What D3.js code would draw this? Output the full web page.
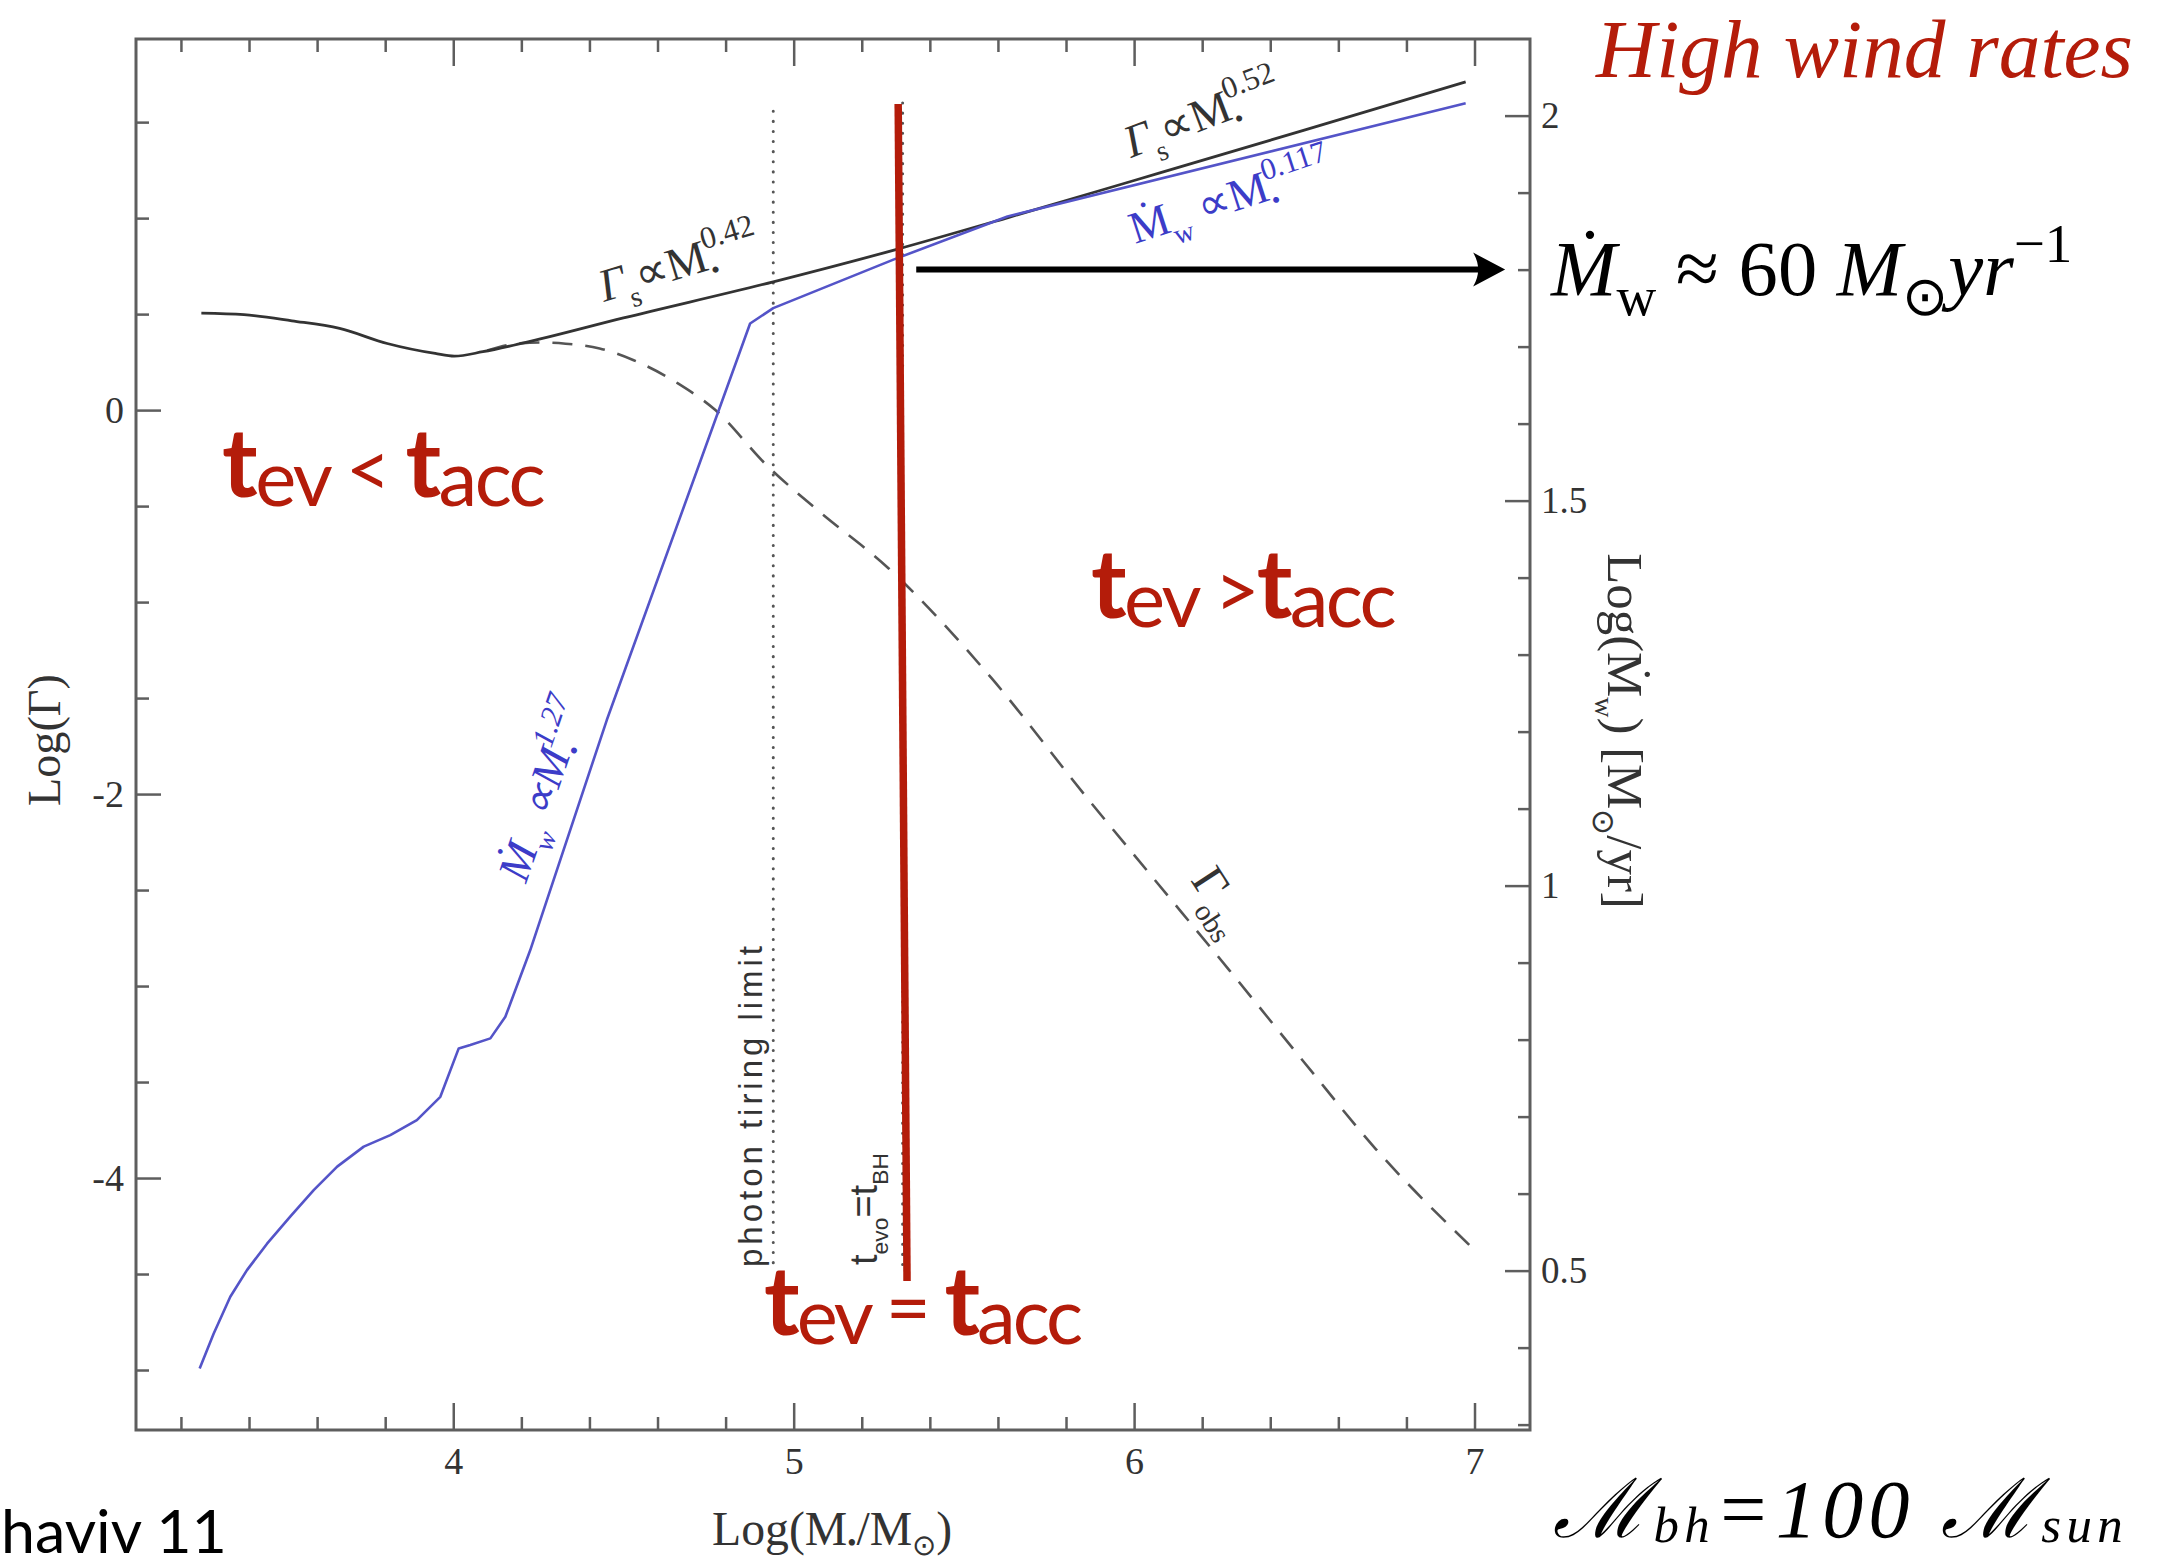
<!DOCTYPE html>
<html>
<head>
<meta charset="utf-8">
<script src="https://cdn.jsdelivr.net/npm/d3@7"></script>
<style>
  html, body { margin: 0; padding: 0; background: #fff; }
  svg { display: block; }
</style>
</head>
<body>
<svg id="chart" width="2171" height="1565"></svg>
<script>
// ---- data -------------------------------------------------------------
// log stellar mass (x) and log Eddington factor of the sonic point, Gamma_s
const massS   = [3.26, 3.385, 3.526, 3.666, 3.806, 3.947, 4.003, 4.087, 4.2, 4.5, 4.94, 5.3, 5.63, 6.0, 6.5, 6.974];
const gammaS  = [0.505, 0.497, 0.465, 0.4255, 0.347, 0.295, 0.281, 0.304, 0.347, 0.48, 0.668, 0.836, 1.003, 1.196, 1.458, 1.710];

// observed Eddington factor, Gamma_obs
const massObs  = [4.1, 4.19, 4.26, 4.33, 4.43, 4.53, 4.66, 4.77, 4.92, 5.07, 5.28, 5.58, 5.86, 6.07, 6.28, 6.50, 6.71, 6.99];
const gammaObs = [0.31, 0.347, 0.352, 0.346, 0.321, 0.26, 0.139, 0.0, -0.286, -0.521, -0.826, -1.394, -2.016, -2.467, -2.918, -3.398, -3.849, -4.358];

// wind mass-loss rate, log(Mdot_w) in Msun/yr (right axis)
const massWind = [3.255, 3.296, 3.345, 3.394, 3.453, 3.521, 3.590, 3.659, 3.737, 3.815, 3.893, 3.962, 4.016, 4.050, 4.109, 4.153, 4.226, 4.451, 4.872, 4.940, 5.293, 5.628, 6.974];
const mdotWind = [0.373, 0.418, 0.466, 0.5006, 0.535, 0.570, 0.6045, 0.635, 0.661, 0.676, 0.6955, 0.7257, 0.7886, 0.793, 0.8016, 0.8296, 0.916, 1.215, 1.730, 1.750, 1.813, 1.869, 2.016];

// vertical markers
const photonLimitMass  = 4.94;
const photonLimitGamma = [1.557, -4.46];
const tBHMass          = 5.32;
const tBHGamma         = [1.6, -4.5];
const tEqualMass       = [5.307, 5.333];   // top, bottom
const tEqualGamma      = [1.594, -4.536];

// arrow pointing at the wind rate on the right axis
const arrowMass = [5.36, 7.09];
const arrowMdot = 1.80;

// axis ticks
const massMajor  = [4, 5, 6, 7];
const massMinor  = d3.range(16, 36).map(i => i / 5).filter(v => !massMajor.includes(v));
const gammaMajor = [-4, -2, 0];
const gammaMinor = d3.range(-10, 4).map(i => i / 2).filter(v => !gammaMajor.includes(v));
const mdotMajor  = [0.5, 1, 1.5, 2];
const mdotMinor  = d3.range(3, 21).map(i => i / 10).filter(v => !mdotMajor.some(m => Math.abs(m - v) < 1e-9));

// ---- layout -----------------------------------------------------------
const svg = d3.select('#chart');
const plot = { left: 136, right: 1530, top: 39, bottom: 1430 };

const x  = d3.scaleLinear().domain([3.068, 7.163]).range([plot.left, plot.right]);
const yL = d3.scaleLinear().domain([-5.3125, 1.933]).range([plot.bottom, plot.top]);
const yR = d3.scaleLinear().domain([0.293, 2.0995]).range([plot.bottom, plot.top]);

const SERIF = '"Liberation Serif", "Times New Roman", serif';
const SANS  = '"Liberation Sans", Arial, sans-serif';
const GILL  = 'Lato, "Open Sans", sans-serif';
const RED   = '#b41c0a';
const AXC   = '#5e5e5e';
const TXT   = '#333';

svg.append('rect').attr('width', 2171).attr('height', 1565).attr('fill', '#fff');

// ---- axes -------------------------------------------------------------
function styleAxis(g, size) {
  g.select('.domain').remove();
  g.selectAll('.tick line').attr('stroke', AXC).attr('stroke-width', 2.5);
  g.selectAll('.tick text').attr('fill', TXT).attr('font-family', SERIF).attr('font-size', size);
}

const axes = svg.append('g');
// bottom
axes.append('g').attr('transform', `translate(0,${plot.bottom})`)
  .call(d3.axisBottom(x).tickValues(massMinor).tickSizeInner(-13).tickSizeOuter(0).tickFormat(''))
  .call(g => styleAxis(g, 38));
axes.append('g').attr('transform', `translate(0,${plot.bottom})`)
  .call(d3.axisBottom(x).tickValues(massMajor).tickSizeInner(-27).tickSizeOuter(0).tickPadding(17).tickFormat(d => String(d)))
  .call(g => styleAxis(g, 38));
// top
axes.append('g').attr('transform', `translate(0,${plot.top})`)
  .call(d3.axisTop(x).tickValues(massMinor).tickSizeInner(-13).tickSizeOuter(0).tickFormat(''))
  .call(g => styleAxis(g, 38));
axes.append('g').attr('transform', `translate(0,${plot.top})`)
  .call(d3.axisTop(x).tickValues(massMajor).tickSizeInner(-27).tickSizeOuter(0).tickFormat(''))
  .call(g => styleAxis(g, 38));
// left
axes.append('g').attr('transform', `translate(${plot.left},0)`)
  .call(d3.axisLeft(yL).tickValues(gammaMinor).tickSizeInner(-13).tickSizeOuter(0).tickFormat(''))
  .call(g => styleAxis(g, 38));
axes.append('g').attr('transform', `translate(${plot.left},0)`)
  .call(d3.axisLeft(yL).tickValues(gammaMajor).tickSizeInner(-25).tickSizeOuter(0).tickPadding(12).tickFormat(d => String(d)))
  .call(g => styleAxis(g, 38));
// right
axes.append('g').attr('transform', `translate(${plot.right},0)`)
  .call(d3.axisRight(yR).tickValues(mdotMinor).tickSizeInner(-12).tickSizeOuter(0).tickFormat(''))
  .call(g => styleAxis(g, 37));
axes.append('g').attr('transform', `translate(${plot.right},0)`)
  .call(d3.axisRight(yR).tickValues(mdotMajor).tickSizeInner(-25).tickSizeOuter(0).tickPadding(11).tickFormat(d => String(d)))
  .call(g => styleAxis(g, 37));

// frame
svg.append('rect')
  .attr('x', plot.left).attr('y', plot.top)
  .attr('width', plot.right - plot.left).attr('height', plot.bottom - plot.top)
  .attr('fill', 'none').attr('stroke', AXC).attr('stroke-width', 3);

// ---- curves -----------------------------------------------------------
const curves = svg.append('g');

// photon tiring limit and t_evo = t_BH (dotted)
curves.append('line')
  .attr('x1', x(photonLimitMass)).attr('x2', x(photonLimitMass))
  .attr('y1', yL(photonLimitGamma[0])).attr('y2', yL(photonLimitGamma[1]))
  .attr('stroke', '#555').attr('stroke-width', 3).attr('stroke-linecap', 'round')
  .attr('stroke-dasharray', '0.1,10');
curves.append('line')
  .attr('x1', x(tBHMass)).attr('x2', x(tBHMass))
  .attr('y1', yL(tBHGamma[0])).attr('y2', yL(tBHGamma[1]))
  .attr('stroke', '#555').attr('stroke-width', 3).attr('stroke-linecap', 'round')
  .attr('stroke-dasharray', '0.1,10');

// Gamma_obs (dashed)
curves.append('path')
  .datum(d3.zip(massObs, gammaObs))
  .attr('d', d3.line().x(d => x(d[0])).y(d => yL(d[1])).curve(d3.curveMonotoneX))
  .attr('fill', 'none').attr('stroke', '#555').attr('stroke-width', 2.6)
  .attr('stroke-dasharray', '20,13');

// Gamma_s (solid black)
curves.append('path')
  .datum(d3.zip(massS, gammaS))
  .attr('d', d3.line().x(d => x(d[0])).y(d => yL(d[1])).curve(d3.curveMonotoneX))
  .attr('fill', 'none').attr('stroke', '#333').attr('stroke-width', 2.8);

// wind mass-loss rate (blue, right axis)
curves.append('path')
  .datum(d3.zip(massWind, mdotWind))
  .attr('d', d3.line().x(d => x(d[0])).y(d => yR(d[1])))
  .attr('fill', 'none').attr('stroke', '#5454c8').attr('stroke-width', 2.6)
  .attr('stroke-linejoin', 'round');

// t_ev = t_acc (red)
curves.append('line')
  .attr('x1', x(tEqualMass[0])).attr('x2', x(tEqualMass[1]))
  .attr('y1', yL(tEqualGamma[0])).attr('y2', yL(tEqualGamma[1]))
  .attr('stroke', RED).attr('stroke-width', 7.5);

// arrow
const ay = yR(arrowMdot), ax0 = x(arrowMass[0]), ax1 = x(arrowMass[1]);
curves.append('line')
  .attr('x1', ax0).attr('x2', ax1 - 20).attr('y1', ay).attr('y2', ay)
  .attr('stroke', '#000').attr('stroke-width', 6);
curves.append('path')
  .attr('d', `M${ax1},${ay} L${ax1 - 32},${ay - 17} Q${ax1 - 22},${ay} ${ax1 - 32},${ay + 17} Z`)
  .attr('fill', '#000');

// ---- text helper: rich text built from pieces ---------------------------
function rich(parent, pieces, o) {
  const t = parent.append('text')
    .attr('transform', `translate(${o.x},${o.y}) rotate(${o.rotate || 0})`)
    .attr('text-anchor', o.anchor || 'start')
    .attr('font-family', o.family || SERIF)
    .attr('fill', o.fill || TXT)
    .attr('font-style', o.italic ? 'italic' : null);
  const draw = (base, ls) => {
    t.selectAll('tspan').remove();
    let prev = 0;
    pieces.forEach(p => {
      const shift = (p.shift || 0) * base;
      const ts = t.append('tspan').text(p.t)
        .attr('font-size', (p.s || 1) * base)
        .attr('dy', shift - prev);
      if (p.dx) ts.attr('dx', p.dx * base);
      if (p.i !== undefined) ts.attr('font-style', p.i ? 'italic' : 'normal');
      if (p.b) ts.attr('font-weight', 700);
      if (ls) ts.attr('letter-spacing', ls);
      prev = shift;
    });
  };
  draw(o.size, 0);
  if (o.width) {
    const w = t.node().getComputedTextLength();
    if (o.mode === 'spacing') {
      const n = pieces.reduce((a, p) => a + [...p.t].length, 0);
      draw(o.size, (o.width - w) / n);
    } else {
      draw(o.size * o.width / w, 0);
    }
  }
  return t;
}

const labels = svg.append('g');
const SUB = 0.3, SUP = -0.45;

// curve labels
rich(labels, [
  { t: 'Γ', i: true }, { t: 's', s: 0.62, shift: SUB }, { t: '∝', shift: 0 }, { t: 'M' },
  { t: '•', s: 0.55, shift: 0.22 }, { t: '0.42', s: 0.68, shift: SUP, dx: -0.22 }
], { x: 604, y: 302, rotate: -17, size: 40, width: 176 });

rich(labels, [
  { t: 'Γ', i: true }, { t: 's', s: 0.62, shift: SUB }, { t: '∝', shift: 0 }, { t: 'M' },
  { t: '•', s: 0.55, shift: 0.22 }, { t: '0.52', s: 0.68, shift: SUP, dx: -0.22 }
], { x: 1131, y: 158, rotate: -21, size: 40, width: 174 });

rich(labels, [
  { t: 'Ṁ' }, { t: 'w', s: 0.62, shift: SUB }, { t: '  ∝', shift: 0 }, { t: 'M' },
  { t: '•', s: 0.55, shift: 0.22 }, { t: '0.117', s: 0.68, shift: SUP, dx: -0.22 }
], { x: 1135, y: 244, rotate: -18, size: 38, width: 220, fill: '#3c3cc8' });

rich(labels, [
  { t: 'Ṁ' }, { t: 'w', s: 0.62, shift: SUB }, { t: '  ∝', shift: 0 }, { t: 'M' },
  { t: '•', s: 0.55, shift: 0.22 }, { t: '1.27', s: 0.68, shift: SUP, dx: -0.22 }
], { x: 526, y: 884, rotate: -71, size: 38, width: 200, fill: '#3c3cc8', italic: true });

rich(labels, [
  { t: 'Γ' }, { t: 'obs', s: 0.62, shift: SUB }
], { x: 1190, y: 880, rotate: 57, size: 36, width: 68 });

rich(labels, [{ t: 'photon tiring limit' }],
  { x: 762, y: 1267, rotate: -90, size: 33, width: 325, mode: 'spacing', family: SANS });

rich(labels, [
  { t: 't' }, { t: 'evo', s: 0.6, shift: SUB }, { t: '=', shift: 0 }, { t: 't' }, { t: 'BH', s: 0.6, shift: SUB }
], { x: 877, y: 1265, rotate: -90, size: 30, width: 112, family: SANS });

// axis titles
rich(labels, [
  { t: 'Log(M' }, { t: '•', s: 0.55, shift: 0.15 }, { t: '/M', shift: 0 },
  { t: '⊙', s: 0.6, shift: 0.2 }, { t: ')', shift: 0 }
], { x: 712, y: 1545, size: 38, width: 240 });

rich(labels, [{ t: 'Log(Γ)' }],
  { x: 60, y: 740, rotate: -90, anchor: 'middle', size: 40, width: 132 });

rich(labels, [
  { t: 'Log(Ṁ' }, { t: 'w', s: 0.55, shift: 0.25 }, { t: ')  [M', shift: 0 },
  { t: '⊙', s: 0.6, shift: 0.3 }, { t: '/yr]', shift: 0 }
], { x: 1608, y: 731, rotate: 90, anchor: 'middle', size: 38, width: 355 });

// ---- annotations --------------------------------------------------------
rich(labels, [{ t: 'High wind rates' }],
  { x: 1596, y: 77, size: 82, width: 537, italic: true, fill: RED });

rich(labels, [
  { t: 'Ṁ', i: true }, { t: 'w', s: 0.7, shift: 0.25 }, { t: ' ≈ 60  ', shift: 0 },
  { t: 'M', i: true }, { t: '⊙', s: 0.7, shift: 0.25 }, { t: 'yr', i: true, shift: 0 },
  { t: '−1', s: 0.7, shift: -0.42 }
], { x: 1551, y: 295, size: 64, width: 522, fill: '#000' });

rich(labels, [
  { t: 'ℳ' }, { t: 'bh', s: 0.62, shift: 0.06 }, { t: '=100 ', shift: 0 },
  { t: 'ℳ' }, { t: 'sun', s: 0.62, shift: 0.06 }
], { x: 1553, y: 1537, size: 82, width: 575, mode: 'spacing', italic: true, fill: '#000' });

rich(labels, [{ t: 'haviv 11' }],
  { x: 1, y: 1553, size: 64, width: 226, family: GILL, fill: '#000' });

// regime labels
const tPieces = (rel) => [
  { t: 't', b: true }, { t: 'ev', s: 0.81, shift: 0.09 }, { t: rel, s: 0.81, shift: 0 },
  { t: 't', b: true }, { t: 'acc', s: 0.81, shift: 0.09 }
];
rich(labels, tPieces(' < '), { x: 222, y: 497, size: 96, width: 321, mode: 'spacing', family: GILL, fill: RED });
rich(labels, tPieces(' >'),  { x: 1091, y: 618, size: 96, width: 303, mode: 'spacing', family: GILL, fill: RED });
rich(labels, tPieces(' = '), { x: 764, y: 1335, size: 96, width: 316, mode: 'spacing', family: GILL, fill: RED });
</script>
</body>
</html>
